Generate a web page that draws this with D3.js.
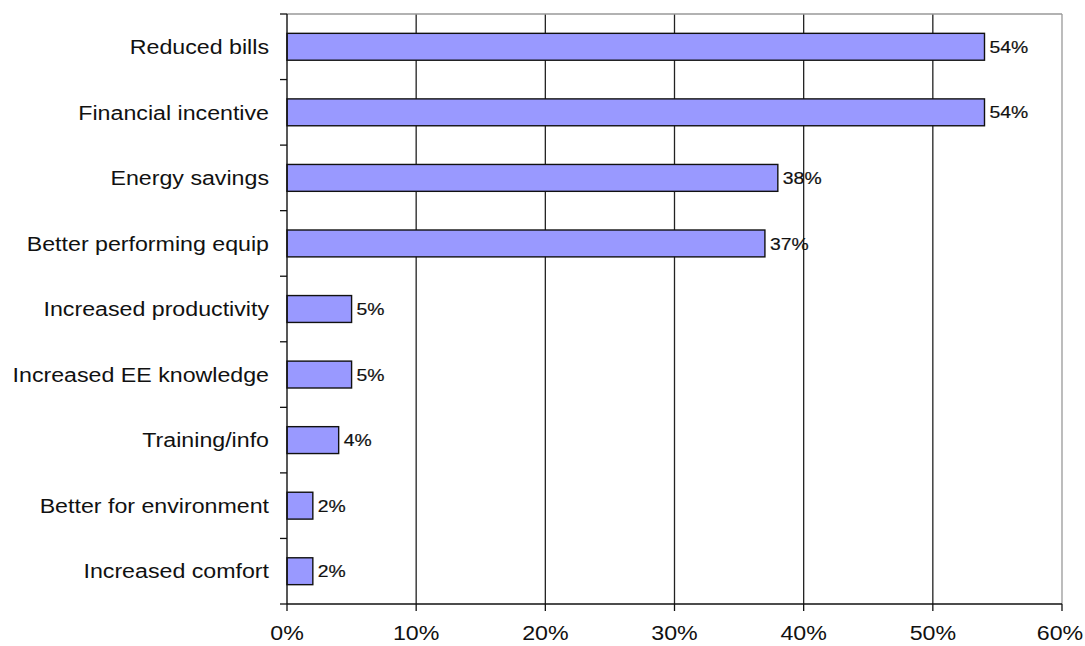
<!DOCTYPE html>
<html><head><meta charset="utf-8">
<script src="https://cdn.jsdelivr.net/npm/d3@7"></script>
<style>body{margin:0;background:#fff}svg{display:block}text{font-family:"Liberation Sans",Arial,sans-serif;fill:#111}</style>
</head><body>
<script>
const categories = ["Reduced bills","Financial incentive","Energy savings","Better performing equip","Increased productivity","Increased EE knowledge","Training/info","Better for environment","Increased comfort"];
const values = [54,54,38,37,5,5,4,2,2];
const xTicks = [0,10,20,30,40,50,60];

const W=1085,H=646;
const m={left:287,right:1062,top:14,bottom:604};
const svg=d3.select("body").append("svg").attr("width",W).attr("height",H);
const x=d3.scaleLinear().domain([0,60]).range([m.left,m.right]);
const y=d3.scaleBand().domain(categories).range([m.top,m.bottom]).paddingInner(0.59).paddingOuter(0.295);
const yb=d3.scaleLinear().domain([0,categories.length]).range([m.top,m.bottom]);

// gridlines
svg.append("g").selectAll("line").data(xTicks.slice(1,-1)).join("line")
  .attr("x1",d=>x(d)).attr("x2",d=>x(d)).attr("y1",m.top).attr("y2",m.bottom)
  .attr("stroke","#222").attr("stroke-width",1.3);
// frame top/right gray
svg.append("line").attr("x1",m.left).attr("x2",m.right).attr("y1",m.top).attr("y2",m.top).attr("stroke","#999").attr("stroke-width",1.3);
svg.append("line").attr("x1",m.right).attr("x2",m.right).attr("y1",m.top).attr("y2",m.bottom).attr("stroke","#999").attr("stroke-width",1.3);

// bars
svg.append("g").selectAll("rect").data(values).join("rect")
  .attr("x",x(0)).attr("y",(d,i)=>y(categories[i])).attr("width",d=>x(d)-x(0)).attr("height",y.bandwidth())
  .attr("fill","#9999ff").attr("stroke","#111").attr("stroke-width",1.4);

// value labels
svg.append("g").selectAll("text").data(values).join("text")
  .attr("transform",(d,i)=>`translate(${x(d)+5},${y(categories[i])+y.bandwidth()/2}) scale(1.14,1)`)
  .attr("dy","0.36em").attr("font-size",17).attr("stroke","#111").attr("stroke-width",0.2)
  .text(d=>d+"%");

// y axis line + ticks
svg.append("line").attr("x1",m.left).attr("x2",m.left).attr("y1",m.top).attr("y2",m.bottom).attr("stroke","#111").attr("stroke-width",1.4);
svg.append("g").selectAll("line").data(d3.range(categories.length+1)).join("line")
  .attr("x1",m.left-7).attr("x2",m.left).attr("y1",d=>yb(d)).attr("y2",d=>yb(d)).attr("stroke","#111").attr("stroke-width",1.3);
svg.append("g").selectAll("text").data(categories).join("text")
  .attr("transform",d=>`translate(269,${y(d)+y.bandwidth()/2}) scale(1.16,1)`)
  .attr("dy","0.36em").attr("text-anchor","end")
  .attr("font-size",20).text(d=>d);

// x axis
svg.append("line").attr("x1",m.left).attr("x2",m.right).attr("y1",m.bottom).attr("y2",m.bottom).attr("stroke","#111").attr("stroke-width",1.4);
svg.append("g").selectAll("line").data(xTicks).join("line")
  .attr("x1",d=>x(d)).attr("x2",d=>x(d)).attr("y1",m.bottom).attr("y2",m.bottom+7).attr("stroke","#111").attr("stroke-width",1.3);
svg.append("g").selectAll("text").data(xTicks).join("text")
  .attr("transform",d=>`translate(${Math.min(x(d),1060)},640) scale(1.16,1)`).attr("text-anchor","middle").attr("font-size",20).text(d=>d+"%");
</script>
</body></html>
